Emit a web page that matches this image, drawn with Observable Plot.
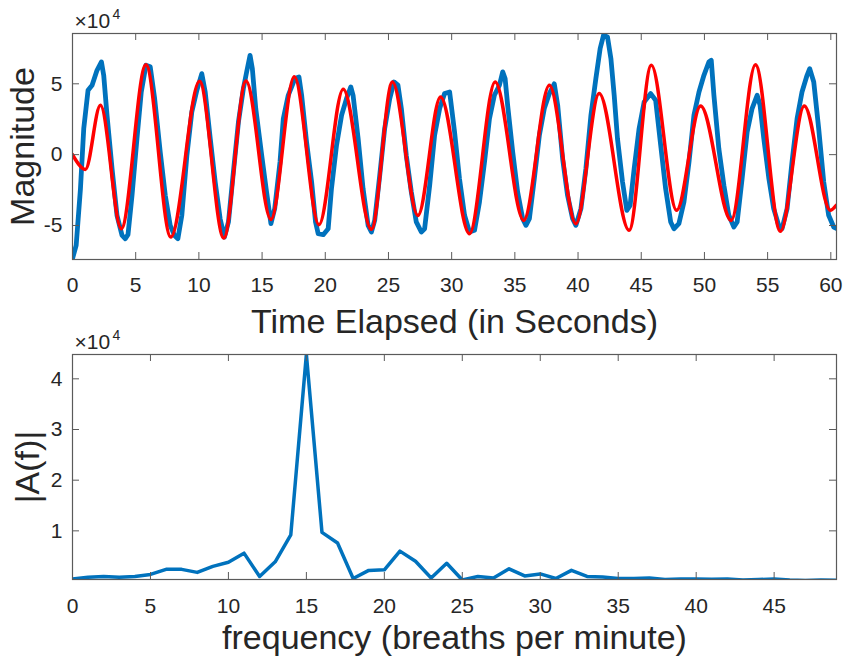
<!DOCTYPE html>
<html>
<head>
<meta charset="utf-8">
<script src="https://cdn.jsdelivr.net/npm/d3@7"></script>
<script src="https://cdn.jsdelivr.net/npm/@observablehq/plot@0.6"></script>
<style>
  html, body { margin: 0; padding: 0; background: #fff; }
  #chart { position: relative; width: 847px; height: 663px; background: #fff; }
  #chart svg { position: absolute; left: 0; }
</style>
</head>
<body>
<div id="chart"></div>
<script>
// ---------- Top panel: breathing signal (values in units of 10^4) ----------
const blueT = [0,0.29,0.63,0.89,1.23,1.55,1.94,2.29,2.47,2.73,3.13,3.52,3.92,4.18,4.39,4.71,5.1,5.44,5.81,6.15,6.5,6.94,7.34,7.73,8.07,8.34,8.65,9.05,9.44,9.84,10.23,10.5,10.9,11.29,11.68,12.02,12.34,12.73,13.13,13.52,13.78,14.05,14.23,14.5,14.97,15.35,15.7,16.0,16.42,16.68,17.07,17.6,17.92,18.13,18.52,18.92,19.23,19.44,19.84,20.23,20.49,20.89,21.29,21.68,22.02,22.2,22.6,22.99,23.39,23.65,23.91,24.31,24.7,25.1,25.44,25.75,26.02,26.41,26.81,27.2,27.6,27.86,28.26,28.65,29.05,29.44,29.84,30.23,30.62,31.02,31.41,31.81,32.2,32.6,32.99,33.38,33.78,34.04,34.23,34.43,34.83,35.22,35.62,35.88,36.15,36.54,36.94,37.33,37.73,38.12,38.39,38.78,39.17,39.57,39.83,40.23,40.62,41.02,41.41,41.75,42.02,42.33,42.6,42.86,43.12,43.52,43.86,44.12,44.44,44.83,45.23,45.75,46.14,46.54,46.93,47.33,47.59,47.98,48.38,48.78,49.17,49.57,49.96,50.35,50.54,50.75,51.14,51.54,51.93,52.33,52.59,52.98,53.38,53.77,54.17,54.4,54.7,55.1,55.48,55.88,56.14,56.54,56.93,57.33,57.72,58.12,58.33,58.65,59.04,59.44,59.83,60.23,60.43];
const blueV = [-7.34,-6.4,-2.4,1.84,4.54,4.9,5.95,6.54,5.6,2.78,-0.99,-4.28,-5.7,-5.93,-5.65,-2.87,1.13,4.42,6.31,6.2,3.95,0.19,-2.87,-4.99,-5.7,-5.93,-4.28,-0.05,3.01,4.54,5.72,4.42,1.13,-1.93,-4.52,-5.82,-4.75,-1.22,2.31,4.66,5.84,7.01,6.07,3.25,-0.05,-2.6,-4.87,-3.8,-0.52,2.54,4.19,5.37,5.48,4.19,0.9,-1.93,-4.75,-5.58,-5.65,-5.23,-2.4,0.66,2.78,3.95,4.78,4.19,1.13,-2.4,-4.99,-5.46,-4.64,-1.46,1.84,3.95,5.13,4.9,3.25,-0.05,-2.64,-4.75,-5.46,-5.23,-2.17,1.37,3.25,4.31,4.42,1.6,-1.7,-4.28,-5.46,-5.34,-3.34,-0.52,2.54,4.19,4.9,5.84,5.37,3.48,0.19,-2.64,-4.52,-4.99,-4.52,-1.7,1.37,3.25,4.31,5.0,3.48,-0.28,-2.87,-4.52,-4.99,-3.81,-0.99,2.78,5.37,7.49,8.43,8.31,6.78,4.19,1.13,-1.93,-3.93,-3.58,-0.99,1.84,3.72,4.31,3.84,0.66,-2.4,-4.75,-5.23,-4.87,-3.34,-0.52,2.78,4.42,5.6,6.54,6.66,4.19,0.42,-2.17,-4.28,-5.11,-4.75,-1.7,1.6,3.25,4.19,3.5,1.13,-1.7,-3.81,-4.99,-5.23,-3.81,-0.52,2.54,4.42,5.6,6.07,5.13,1.84,-1.93,-4.28,-5.11,-5.2];

// red fitted curve: turning points
const redT = [0,1.02,2.21,3.86,5.81,7.78,10.05,11.97,13.73,15.70,17.55,19.5,21.42,23.65,25.31,27.33,29.12,31.41,33.44,35.7,37.73,39.83,41.67,44.04,45.8,47.8,49.7,52.12,54.04,56.01,57.9,59.96,60.43];
const redV = [0,-1.04,3.48,-5.23,6.35,-5.82,5.18,-5.89,5.2,-4.57,5.49,-4.94,4.62,-5.27,5.13,-4.29,4.07,-5.58,5.13,-4.64,4.9,-4.87,4.31,-5.34,6.31,-3.93,3.44,-4.64,6.35,-5.41,3.44,-3.92,-3.58];

const timeTicks = [0,5,10,15,20,25,30,35,40,45,50,55,60];
const magTicks = [-5,0,5];

// ---------- Bottom panel: spectrum (units of 10^4) ----------
const freq = d3.range(0, 50);
const amp = [0.05,0.085,0.1,0.085,0.1,0.14,0.24,0.24,0.18,0.3,0.38,0.56,0.1,0.39,0.92,4.48,0.97,0.76,0.06,0.22,0.23,0.6,0.4,0.07,0.36,0.03,0.1,0.07,0.25,0.11,0.15,0.06,0.22,0.1,0.09,0.06,0.06,0.07,0.04,0.05,0.05,0.045,0.05,0.03,0.04,0.05,0.03,0.02,0.03,0.025];
const freqTicks = [0,5,10,15,20,25,30,35,40,45];
const ampTicks = [1,2,3,4];

const FONT = "'Liberation Sans', Arial, Helvetica, sans-serif";
const INK = "#262626";
const BOX = "#5a5a5a";
const BLUE = "#0072BD";
const RED = "#FF0000";
const TICK_FS = 21, LABEL_FS = 34;

function boxTicks(xt, yt, innerW, innerH, len) {
  return [
    Plot.ruleX(xt, {insetTop: innerH - len, stroke: BOX, strokeWidth: 1}),
    Plot.ruleX(xt, {insetBottom: innerH - len, stroke: BOX, strokeWidth: 1}),
    Plot.ruleY(yt, {insetRight: innerW - len, stroke: BOX, strokeWidth: 1}),
    Plot.ruleY(yt, {insetLeft: innerW - len, stroke: BOX, strokeWidth: 1})
  ];
}

function exponent() {
  return [
    Plot.text(["×10"], {frameAnchor: "top-left", dx: 2, dy: -6, textAnchor: "start", lineAnchor: "bottom", fontSize: 21, fill: INK}),
    Plot.text(["4"], {frameAnchor: "top-left", dx: 40, dy: -15, textAnchor: "start", lineAnchor: "bottom", fontSize: 14, fill: INK})
  ];
}

const W = 847, ML = 72, MR = 11;

// top panel
const topH = 336, topMT = 33, topMB = 77;
const topPlot = Plot.plot({
  width: W, height: topH,
  marginTop: topMT, marginBottom: topMB, marginLeft: ML, marginRight: MR,
  style: {fontFamily: FONT, color: INK, background: "transparent", overflow: "visible"},
  x: {domain: [0, 60.45]},
  y: {domain: [-7.4, 8.55]},
  marks: [
    Plot.line(blueV, {x: blueT, y: blueV, stroke: BLUE, strokeWidth: 4.8, clip: true}),
    Plot.line(redV, {x: redT, y: redV, stroke: RED, strokeWidth: 3.5, curve: "monotone-x", clip: true}),
    Plot.frame({stroke: BOX, strokeWidth: 1.2}),
    ...boxTicks(timeTicks, magTicks, W - ML - MR, topH - topMT - topMB, 7),
    Plot.axisX(timeTicks, {tickSize: 0, tickPadding: 18, label: null, tickFormat: d => String(d), fill: INK, fontSize: TICK_FS}),
    Plot.axisY(magTicks, {tickSize: 0, tickPadding: 10, label: null, tickFormat: d => String(d), fill: INK, fontSize: TICK_FS}),
    Plot.text(["Time Elapsed (in Seconds)"], {frameAnchor: "bottom", dy: 73, lineAnchor: "bottom", fontSize: LABEL_FS, fill: INK}),
    Plot.text(["Magnitude"], {frameAnchor: "left", dx: -39, rotate: -90, lineAnchor: "bottom", textAnchor: "middle", fontSize: LABEL_FS, fill: INK}),
    ...exponent()
  ]
});
topPlot.style.top = "0px";

// bottom panel
const botH = 333, botMT = 24, botMB = 84;
const botPlot = Plot.plot({
  width: W, height: botH,
  marginTop: botMT, marginBottom: botMB, marginLeft: ML, marginRight: MR,
  style: {fontFamily: FONT, color: INK, background: "transparent", overflow: "visible"},
  x: {domain: [0, 49]},
  y: {domain: [0.04, 4.48]},
  marks: [
    Plot.line(amp, {x: freq, y: amp, stroke: BLUE, strokeWidth: 3.5, clip: true}),
    Plot.frame({stroke: BOX, strokeWidth: 1.2}),
    ...boxTicks(freqTicks, ampTicks, W - ML - MR, botH - botMT - botMB, 7),
    Plot.axisX(freqTicks, {tickSize: 0, tickPadding: 19, label: null, tickFormat: d => String(d), fill: INK, fontSize: TICK_FS}),
    Plot.axisY(ampTicks, {tickSize: 0, tickPadding: 10, label: null, tickFormat: d => String(d), fill: INK, fontSize: TICK_FS}),
    Plot.text(["frequency (breaths per minute)"], {frameAnchor: "bottom", dy: 69, lineAnchor: "bottom", fontSize: LABEL_FS, fill: INK}),
    Plot.text(["|A(f)|"], {frameAnchor: "left", dx: -34, rotate: -90, lineAnchor: "bottom", textAnchor: "middle", fontSize: LABEL_FS, fill: INK}),
    ...exponent()
  ]
});
botPlot.style.top = "330px";

const chart = document.getElementById("chart");
chart.appendChild(topPlot);
chart.appendChild(botPlot);
</script>
</body>
</html>
